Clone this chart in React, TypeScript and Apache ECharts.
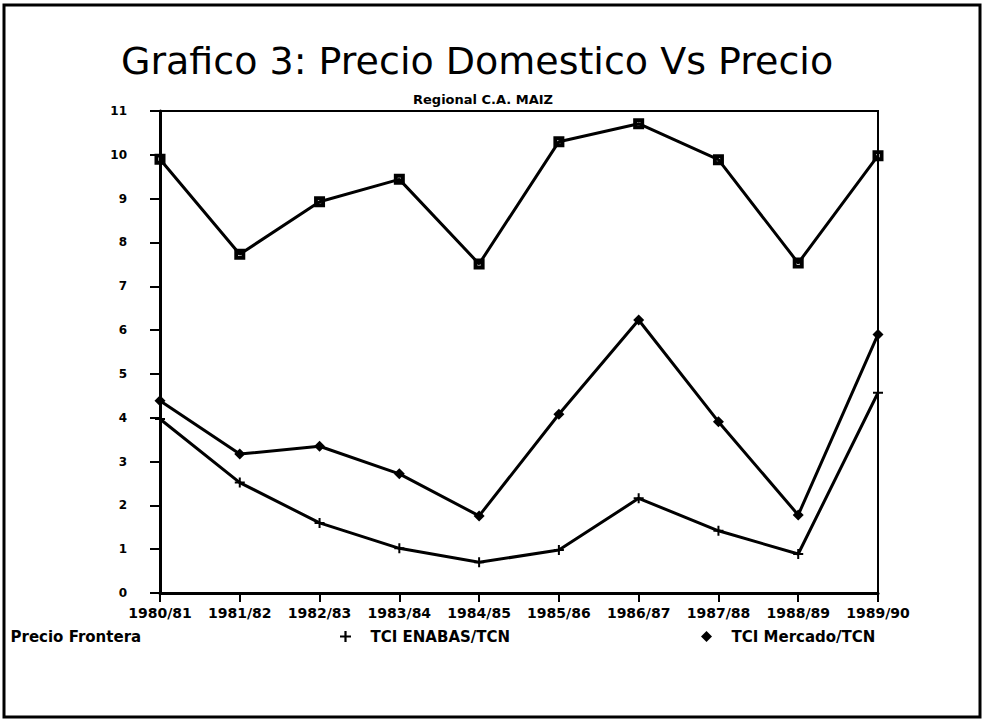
import React, { useEffect, useRef } from "react";
import * as echarts from "echarts";

const categories = ["1980/81", "1981/82", "1982/83", "1983/84", "1984/85", "1985/86", "1986/87", "1987/88", "1988/89", "1989/90"];
const precioFrontera = [9.9, 7.73, 8.93, 9.44, 7.51, 10.3, 10.71, 9.89, 7.53, 9.98];
const tciEnabas = [3.97, 2.52, 1.6, 1.02, 0.7, 0.98, 2.16, 1.42, 0.89, 4.57];
const tciMercado = [4.39, 3.17, 3.35, 2.72, 1.76, 4.08, 6.23, 3.91, 1.78, 5.9];
const yTicks = [0, 11];

const TITLE = "Grafico 3: Precio Domestico Vs Precio";
const SUBTITLE = "Regional C.A. MAIZ";
const NAMES = ["Precio Frontera", "TCI ENABAS/TCN", "TCI Mercado/TCN"];

const PLUS = "path://M4,0 H6 V4 H10 V6 H6 V10 H4 V6 H0 V4 H4 Z";
const DIAMOND = "path://M5,0 L10,5 L5,10 L0,5 Z";
const SQUARE_RING = "path://M0,0 H10 V10 H0 Z M3.5,3.5 V6.5 H6.5 V3.5 Z";

const FONT = "DejaVu Sans";

export default function App() {
  const ref = useRef<HTMLDivElement>(null);
  useEffect(() => {
    if (!ref.current) return;
    const chart = echarts.init(ref.current, undefined, { renderer: "svg" });
    const legendText = { fontFamily: FONT, fontWeight: "bold" as const, fontSize: 15, color: "#000" };
    const legendBase = {
      top: 624,
      itemWidth: 40,
      itemHeight: 11,
      textStyle: legendText,
      symbolKeepAspect: true,
      selectedMode: false,
    };
    chart.setOption({
      animation: false,
      backgroundColor: "#fff",
      title: [
        {
          text: TITLE,
          left: 116,
          top: 37,
          textStyle: { fontFamily: FONT, fontWeight: "normal", fontSize: 38, color: "#000" },
        },
        {
          text: SUBTITLE,
          left: 408,
          top: 88,
          textStyle: { fontFamily: FONT, fontWeight: "bold", fontSize: 13, color: "#000" },
        },
      ],
      legend: [
        { ...legendBase, left: -25, data: [{ name: NAMES[0], icon: SQUARE_RING }] },
        { ...legendBase, left: 335, data: [{ name: NAMES[1], icon: PLUS }] },
        { ...legendBase, left: 696, data: [{ name: NAMES[2], icon: DIAMOND }] },
      ],
      grid: {
        left: 160,
        right: 108,
        top: 111,
        bottom: 128,
        show: true,
        borderColor: "#000",
        borderWidth: 2,
        backgroundColor: "transparent",
      },
      xAxis: {
        type: "category",
        data: categories,
        boundaryGap: false,
        axisLine: { lineStyle: { color: "#000", width: 3 } },
        axisTick: { show: true, length: 9, lineStyle: { color: "#000", width: 2 } },
        axisLabel: { color: "#000", fontFamily: FONT, fontWeight: "bold", fontSize: 14, margin: 13, interval: 0 },
        splitLine: { show: false },
      },
      yAxis: {
        type: "value",
        min: yTicks[0],
        max: yTicks[1],
        interval: 1,
        axisLine: { show: true, lineStyle: { color: "#000", width: 3 } },
        axisTick: { show: true, length: 10, lineStyle: { color: "#000", width: 2 } },
        axisLabel: { color: "#000", fontFamily: FONT, fontWeight: "bold", fontSize: 12, margin: 33 },
        splitLine: { show: false },
      },
      series: [
        {
          name: NAMES[0],
          type: "line",
          data: precioFrontera,
          symbol: SQUARE_RING,
          symbolSize: 11,
          lineStyle: { color: "#000", width: 3 },
          itemStyle: { color: "#000" },
        },
        {
          name: NAMES[1],
          type: "line",
          data: tciEnabas,
          symbol: PLUS,
          symbolSize: 10,
          lineStyle: { color: "#000", width: 3 },
          itemStyle: { color: "#000" },
        },
        {
          name: NAMES[2],
          type: "line",
          data: tciMercado,
          symbol: DIAMOND,
          symbolSize: 11,
          lineStyle: { color: "#000", width: 3 },
          itemStyle: { color: "#000" },
        },
      ],
      graphic: [
        {
          type: "rect",
          shape: { x: 4, y: 5, width: 976, height: 712 },
          style: { fill: "none", stroke: "#000", lineWidth: 3 },
          silent: true,
          z: 100,
        },
      ],
    });
    return () => chart.dispose();
  }, []);
  return <div ref={ref} style={{ position: "fixed", left: 0, top: 0, width: 986, height: 721 }} />;
}
